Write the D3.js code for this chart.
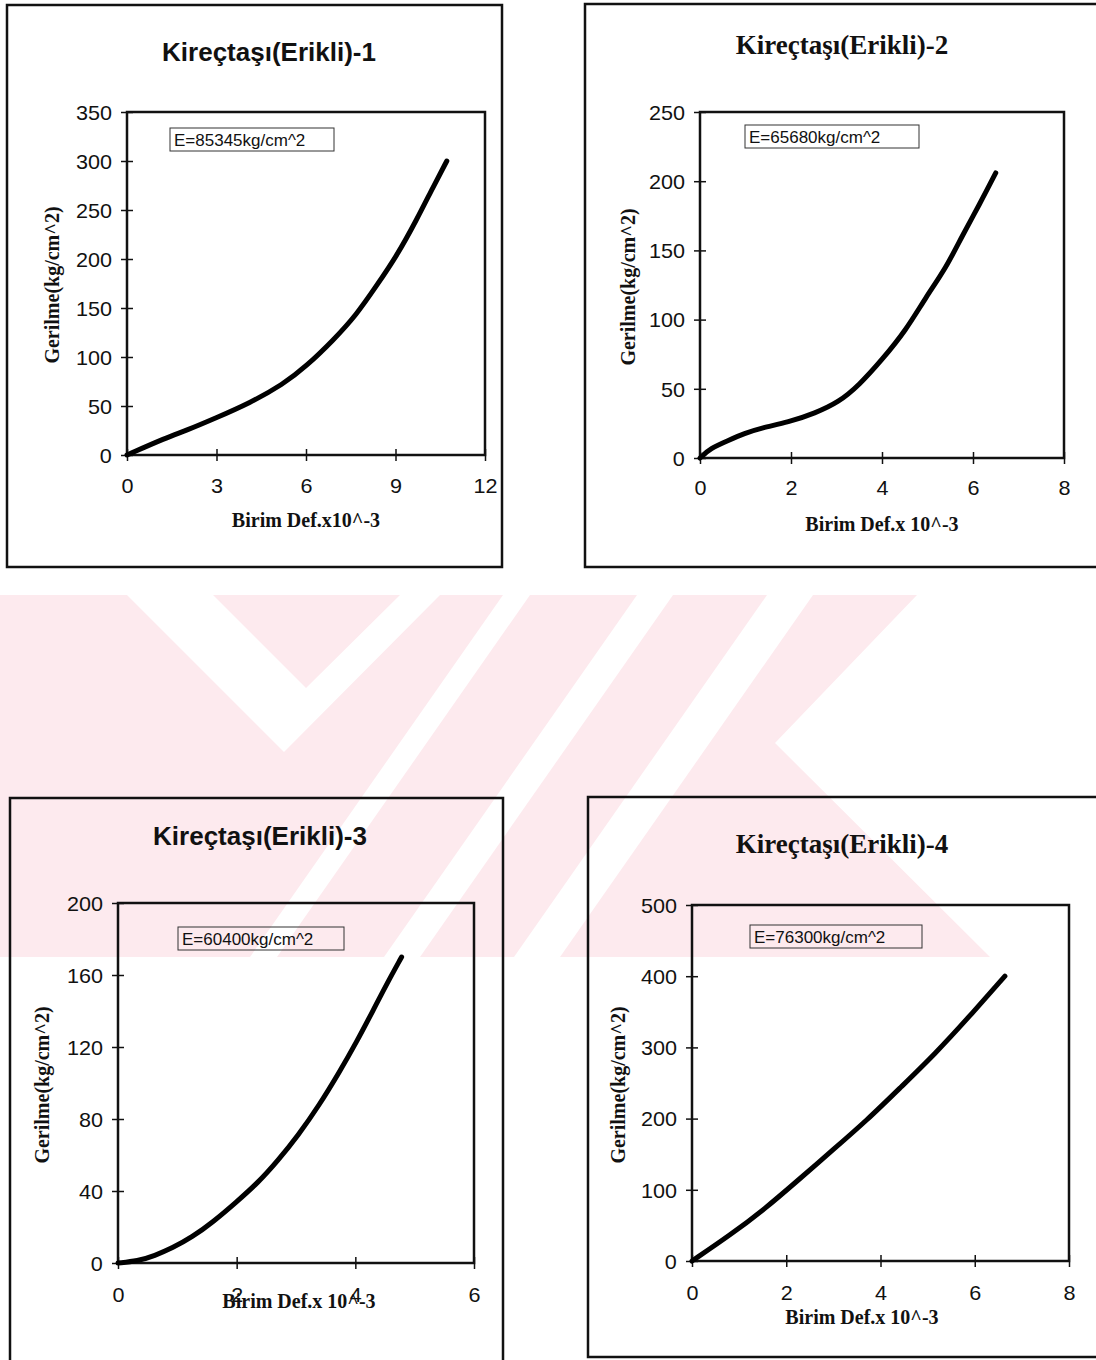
<!DOCTYPE html>
<html>
<head>
<meta charset="utf-8">
<script src="https://cdnjs.cloudflare.com/ajax/libs/d3/7.8.5/d3.min.js"></script>
<style>
  body { margin: 0; background: #ffffff; }
  svg { display: block; }
</style>
</head>
<body>
<script>

// Values (strain x10^-3, stress kg/cm^2)
var strain1 = [0, 1.31, 1.98, 2.99, 4.11, 5.23, 6.01, 6.91, 7.69, 8.37, 9.04, 9.71, 10.27, 10.72];
var stress1 = [0, 17.6, 25, 38, 53, 72, 90.6, 117, 143, 173, 203, 240, 274, 300];

var strain2 = [0, 0.24, 0.61, 0.98, 1.35, 1.94, 2.53, 3.05, 3.49, 4.0, 4.52, 4.96, 5.41, 5.77, 6.14, 6.5];
var stress2 = [0, 7.2, 12.5, 17.8, 21.8, 25.8, 32.4, 40.4, 52.4, 71, 92, 116, 137.5, 161, 183, 206];

var strain3 = [0, 0.33, 0.62, 0.91, 1.25, 1.6, 2.0, 2.35, 2.69, 3.04, 3.39, 3.73, 4.02, 4.31, 4.54, 4.78];
var stress3 = [0, 1, 4.1, 8.2, 14.4, 22.7, 34, 44.3, 56.7, 71.1, 87.6, 106, 122.7, 141, 155.7, 170];

var strain4 = [0, 0.81, 1.54, 2.26, 2.99, 3.71, 4.43, 5.16, 5.88, 6.64];
var stress4 = [0, 36.4, 72.8, 114, 156, 197.5, 244, 291, 343, 400];

// Tick values
var xTicks1 = [0, 3, 6, 9, 12];
var yTicks1 = [0, 50, 100, 150, 200, 250, 300, 350];
var xTicks2 = [0, 2, 4, 6, 8];
var yTicks2 = [0, 50, 100, 150, 200, 250];
var xTicks3 = [0, 2, 4, 6];
var yTicks3 = [0, 40, 80, 120, 160, 200];
var xTicks4 = [0, 2, 4, 6, 8];
var yTicks4 = [0, 100, 200, 300, 400, 500];

// Texts
var titles = ["Kireçtaşı(Erikli)-1", "Kireçtaşı(Erikli)-2", "Kireçtaşı(Erikli)-3", "Kireçtaşı(Erikli)-4"];
var modulus = ["E=85345kg/cm^2", "E=65680kg/cm^2", "E=60400kg/cm^2", "E=76300kg/cm^2"];
var xLabels = ["Birim Def.x10^-3", "Birim Def.x 10^-3", "Birim Def.x 10^-3", "Birim Def.x 10^-3"];
var yLabel = "Gerilme(kg/cm^2)";

var sans = "Arial, 'Liberation Sans', sans-serif";
var serif = "'Times New Roman', 'Liberation Serif', serif";

var w = 1096;
var h = 1360;

var svg = d3.select("body")
            .append("svg")
            .attr("width", w)
            .attr("height", h);

// faint watermark behind the charts
var wm = svg.append("g");
var wmPink = "#fdeaee";

wm.append("path")
  .attr("d", "M0,595 L917,595 L775,743 L990,957 L0,957 Z")
  .attr("fill", wmPink);

var wmGaps = [
  "M127,595 L213,595 L306,688 L400,595 L440,595 L284,752 Z",
  "M503,595 L530,595 L277,957 L250,957 Z",
  "M637,595 L673,595 L420,957 L384,957 Z",
  "M767,595 L813,595 L560,957 L514,957 Z"
];
wm.selectAll("path.gap")
  .data(wmGaps)
  .enter()
  .append("path")
  .attr("class", "gap")
  .attr("d", d => d)
  .attr("fill", "#ffffff");

// layout of each panel (pixels)
var layout = [
  {box: [7, 5, 495, 562], plot: [127, 112, 358, 343], xMax: 12, yMax: 350,
   titleX: 269, titleY: 61, titleFont: sans, titleSize: 26,
   eBox: [170, 128, 164, 23], xLabelX: 306, xLabelY: 527, yLabelX: 54, yLabelY: 285, tickY: 493},
  {box: [585, 4, 520, 563], plot: [700, 112, 364, 346], xMax: 8, yMax: 250,
   titleX: 842, titleY: 54, titleFont: serif, titleSize: 27,
   eBox: [745, 125, 174, 23], xLabelX: 882, xLabelY: 531, yLabelX: 630, yLabelY: 287, tickY: 495},
  {box: [10, 798, 493, 600], plot: [118, 903, 356, 360], xMax: 6, yMax: 200,
   titleX: 260, titleY: 845, titleFont: sans, titleSize: 26,
   eBox: [178, 927, 166, 23], xLabelX: 299, xLabelY: 1308, yLabelX: 44, yLabelY: 1085, tickY: 1302},
  {box: [588, 797, 520, 560], plot: [692, 905, 377, 356], xMax: 8, yMax: 500,
   titleX: 842, titleY: 853, titleFont: serif, titleSize: 27,
   eBox: [750, 925, 172, 23], xLabelX: 862, xLabelY: 1324, yLabelX: 620, yLabelY: 1085, tickY: 1300}
];

var series = [
  {x: strain1, y: stress1, xt: xTicks1, yt: yTicks1},
  {x: strain2, y: stress2, xt: xTicks2, yt: yTicks2},
  {x: strain3, y: stress3, xt: xTicks3, yt: yTicks3},
  {x: strain4, y: stress4, xt: xTicks4, yt: yTicks4}
];

series.forEach(function(s, i){
  drawChart(s, layout[i], i);
});

function drawChart(s, c, i){

  var g = svg.append("g");

  // outer frame of the panel
  g.append("rect")
   .attr("x", c.box[0])
   .attr("y", c.box[1])
   .attr("width", c.box[2])
   .attr("height", c.box[3])
   .attr("fill", "none")
   .attr("stroke", "#111")
   .attr("stroke-width", 2.5);

  var xScale = d3.scaleLinear()
                 .domain([0, c.xMax])
                 .range([c.plot[0], c.plot[0] + c.plot[2]]);

  var yScale = d3.scaleLinear()
                 .domain([0, c.yMax])
                 .range([c.plot[1] + c.plot[3], c.plot[1]]);

  // plot area border
  g.append("rect")
   .attr("x", c.plot[0])
   .attr("y", c.plot[1])
   .attr("width", c.plot[2])
   .attr("height", c.plot[3])
   .attr("fill", "none")
   .attr("stroke", "#111")
   .attr("stroke-width", 2.5);

  // axes, ticks crossing the axis line
  var xAxis = g.append("g")
               .attr("transform", `translate(0, ${yScale(0)})`)
               .call(d3.axisBottom(xScale).tickValues(s.xt).tickSize(6).tickFormat(d3.format("d")));

  var yAxis = g.append("g")
               .attr("transform", `translate(${xScale(0)}, 0)`)
               .call(d3.axisLeft(yScale).tickValues(s.yt).tickSize(6).tickFormat(d3.format("d")));

  [xAxis, yAxis].forEach(function(ax){
    ax.select(".domain").remove();
    ax.attr("font-family", sans).attr("font-size", 20);
    ax.selectAll("line").attr("stroke", "#111").attr("stroke-width", 1.5);
    ax.selectAll("text").attr("fill", "#111");
  });

  xAxis.selectAll("line").attr("y1", -6).attr("y2", 6);
  xAxis.selectAll("text")
       .attr("dy", null)
       .attr("y", c.tickY - yScale(0))
       .attr("transform", "scale(1.08,1)");

  yAxis.selectAll("line").attr("x1", 6).attr("x2", -6);
  yAxis.selectAll("text")
       .attr("x", -14)
       .attr("dy", "0.36em")
       .attr("transform", "scale(1.08,1)");

  // the curve, smoothed through the read points
  var line = d3.line()
               .x(d => xScale(d[0]))
               .y(d => yScale(d[1]))
               .curve(d3.curveBasis);

  g.append("path")
   .datum(d3.zip(s.x, s.y))
   .attr("d", line)
   .attr("fill", "none")
   .attr("stroke", "#000")
   .attr("stroke-width", 5)
   .attr("stroke-linecap", "round")
   .attr("stroke-linejoin", "round");

  // modulus text box
  g.append("rect")
   .attr("x", c.eBox[0])
   .attr("y", c.eBox[1])
   .attr("width", c.eBox[2])
   .attr("height", c.eBox[3])
   .attr("fill", "none")
   .attr("stroke", "#333")
   .attr("stroke-width", 1);

  g.append("text")
   .attr("x", c.eBox[0] + 4)
   .attr("y", c.eBox[1] + c.eBox[3] - 5)
   .attr("font-family", sans)
   .attr("font-size", 17)
   .attr("fill", "#111")
   .text(modulus[i]);

  // title
  g.append("text")
   .attr("x", c.titleX)
   .attr("y", c.titleY)
   .attr("text-anchor", "middle")
   .attr("font-family", c.titleFont)
   .attr("font-weight", "bold")
   .attr("font-size", c.titleSize)
   .attr("fill", "#111")
   .text(titles[i]);

  // axis titles
  g.append("text")
   .attr("x", c.xLabelX)
   .attr("y", c.xLabelY)
   .attr("text-anchor", "middle")
   .attr("font-family", serif)
   .attr("font-weight", "bold")
   .attr("font-size", 20)
   .attr("fill", "#111")
   .text(xLabels[i]);

  g.append("text")
   .attr("transform", `translate(${c.yLabelX}, ${c.yLabelY}) rotate(-90)`)
   .attr("text-anchor", "middle")
   .attr("dominant-baseline", "middle")
   .attr("font-family", serif)
   .attr("font-weight", "bold")
   .attr("font-size", 20)
   .attr("fill", "#111")
   .text(yLabel);
}

</script>
</body>
</html>
